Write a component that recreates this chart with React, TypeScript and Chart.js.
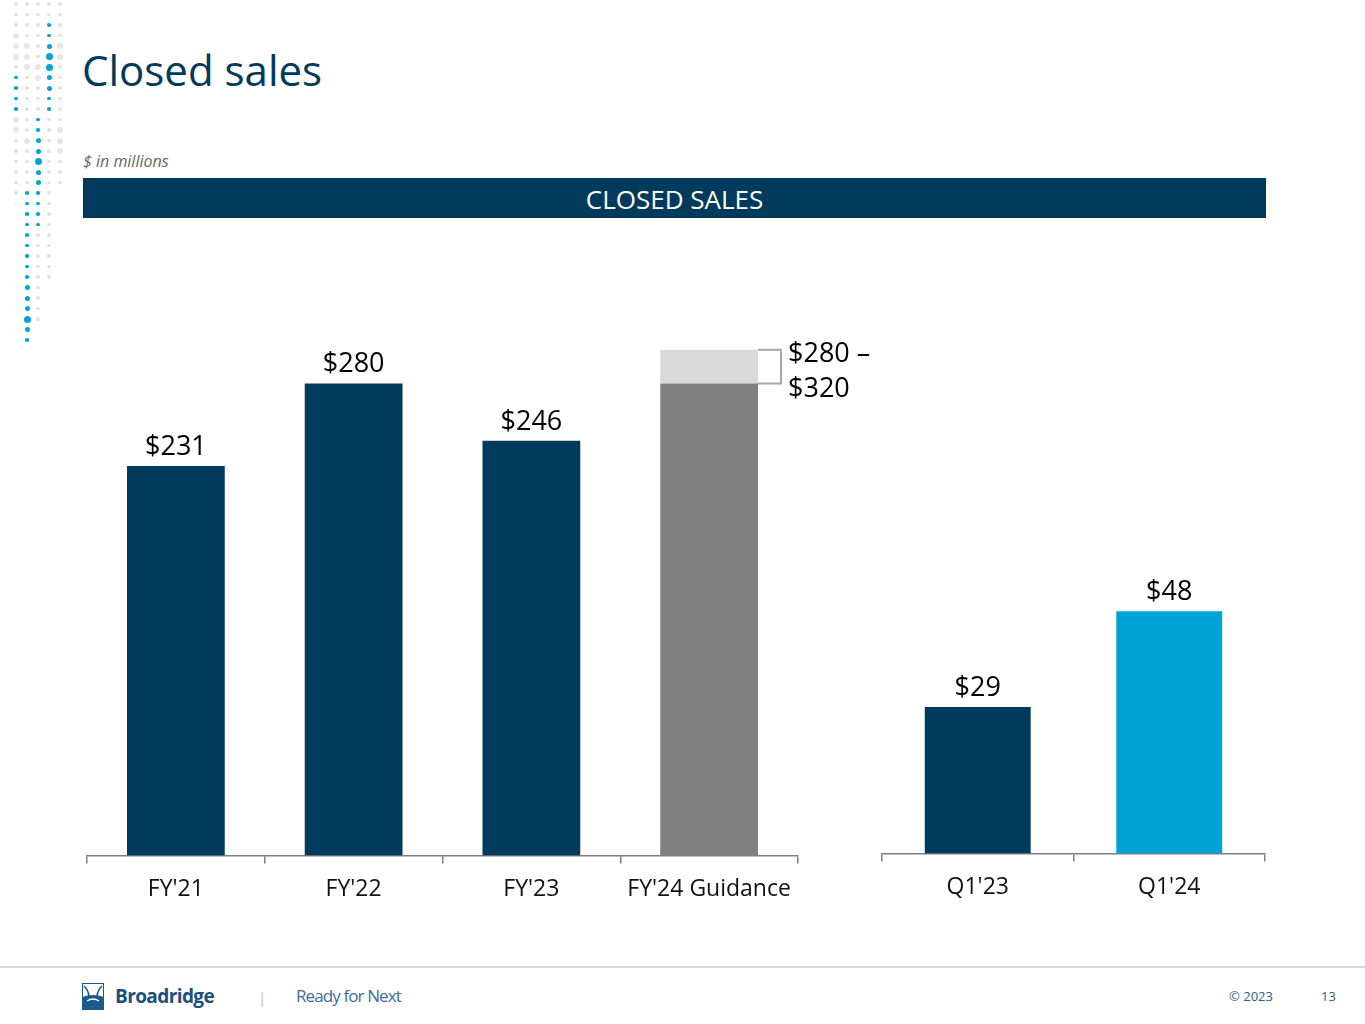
import React, { useRef, useEffect } from 'react';
import { Chart, registerables } from 'chart.js';

Chart.register(...registerables);

// annual closed sales, $ millions
const fyLabels = ["FY'21", "FY'22", "FY'23", "FY'24 Guidance"];
const fyValues = [231, 280, 246, 280];
// light segment on top of the guidance bar (drawn height)
const fyRangeTop = [0, 0, 0, 20];
const guidanceLow = 280;
const guidanceHigh = 320;

// first quarter closed sales
const qLabels = ["Q1'23", "Q1'24"];
const qValues = [29, 48];

const NAVY = '#003a5c';
const BLUE = '#00a3d6';
const FONT = '"Open Sans", "Noto Sans", sans-serif';

const fyColors = fyValues.map((_, i) => (i === fyValues.length - 1 ? '#808080' : NAVY));
const qColors = [NAVY, BLUE];

const valueLabels = {
  id: 'valueLabels',
  afterDatasetsDraw(chart: Chart) {
    const ctx = chart.ctx;
    const meta = chart.getDatasetMeta(0);
    const isFy = chart.data.labels!.length === fyLabels.length;
    ctx.save();
    ctx.font = `27px ${FONT}`;
    ctx.fillStyle = '#000';
    ctx.textBaseline = 'alphabetic';
    meta.data.forEach((bar: any, i: number) => {
      const v = chart.data.datasets[0].data[i] as number;
      if (isFy && i === fyValues.length - 1) {
        const top = chart.getDatasetMeta(1).data[i] as any;
        const right = bar.x + bar.width / 2;
        ctx.strokeStyle = '#a6a6a6';
        ctx.lineWidth = 2;
        ctx.beginPath();
        ctx.moveTo(right, top.y);
        ctx.lineTo(right + 23, top.y);
        ctx.lineTo(right + 23, bar.y);
        ctx.lineTo(right, bar.y);
        ctx.stroke();
        ctx.textAlign = 'left';
        ctx.fillText(`$${guidanceLow} –`, right + 30, top.y + 12);
        ctx.fillText(`$${guidanceHigh}`, right + 30, bar.y + 14);
        return;
      }
      ctx.textAlign = 'center';
      ctx.fillText(`$${v}`, bar.x, bar.y - 11);
    });
    ctx.restore();
  },
};

function xAxis() {
  return {
    stacked: true,
    grid: {
      display: true,
      drawOnChartArea: false,
      drawTicks: true,
      tickLength: 8,
      color: '#7f7f7f',
      lineWidth: 1.5,
      offset: true,
    },
    border: { display: true, color: '#7f7f7f', width: 1.5 },
    ticks: { color: '#111', font: { family: FONT, size: 23 }, padding: 12, maxRotation: 0, autoSkip: false },
  };
}

function BarChart({ labels, datasets, max, padding, width, height }: any) {
  const canvasRef = useRef<HTMLCanvasElement>(null);
  useEffect(() => {
    if (!canvasRef.current) return;
    const chart = new Chart(canvasRef.current, {
      type: 'bar',
      data: { labels, datasets },
      options: {
        responsive: false,
        animation: false,
        layout: { padding },
        plugins: { legend: { display: false }, tooltip: { enabled: false } },
        scales: {
          x: xAxis() as any,
          y: { display: false, stacked: true, min: 0, max },
        },
      },
      plugins: [valueLabels],
    });
    return () => chart.destroy();
  }, []);
  return <canvas ref={canvasRef} width={width} height={height} style={{ width, height, display: 'block' }} />;
}

// left-edge dot decoration: one string per column, one char per row
const dotCols = [16, 27, 38, 49, 60];
const dotRows = [
  'gggGGGgbbbbGGggggggt',
  'ggggGGGggggggGggggbbbbbbbbbmmmBmb',
  'ggggggGGgggbbmmBmmbbbbggggggggg',
  'ggbbmBBmmbbgggggggggggggggg',
  'ggggGGggggggGGGggg',
];
const dotStyle: Record<string, [number, string]> = {
  t: [2, '#e9e9e9'],
  g: [3.5, '#e3e3e3'],
  G: [6, '#e6e6e6'],
  b: [3.5, BLUE],
  m: [5, BLUE],
  B: [7, BLUE],
};

function Dots() {
  const out: React.ReactNode[] = [];
  dotRows.forEach((col, c) => {
    col.split('').forEach((ch, r) => {
      const st = dotStyle[ch];
      if (!st) return;
      const [d, color] = st;
      out.push(
        <div
          key={`${c}-${r}`}
          style={{
            position: 'absolute',
            left: dotCols[c] - d / 2,
            top: 4 + r * 10.5 - d / 2,
            width: d,
            height: d,
            borderRadius: '50%',
            background: color,
          }}
        />
      );
    });
  });
  return <>{out}</>;
}

export default function App() {
  const fyDatasets = [
    { data: fyValues, backgroundColor: fyColors, categoryPercentage: 1, barPercentage: 0.55 },
    { data: fyRangeTop, backgroundColor: '#d9d9d9', categoryPercentage: 1, barPercentage: 0.55 },
  ];
  const qDatasets = [
    { data: qValues, backgroundColor: qColors, categoryPercentage: 1, barPercentage: 0.553 },
  ];
  return (
    <div
      style={{
        position: 'absolute',
        left: 0,
        top: 0,
        width: 1365,
        height: 1024,
        background: '#fff',
        overflow: 'hidden',
        fontFamily: FONT,
      }}
    >
      <Dots />
      <div style={{ position: 'absolute', left: 82, top: 40, fontSize: 42, color: NAVY, lineHeight: '60px' }}>
        Closed sales
      </div>
      <div style={{ position: 'absolute', left: 83, top: 150, fontSize: 16, fontStyle: 'italic', color: '#666' }}>
        $ in millions
      </div>
      <div
        style={{
          position: 'absolute',
          left: 83,
          top: 178,
          width: 1183,
          height: 40,
          background: NAVY,
          color: '#fff',
          fontSize: 26,
          lineHeight: '42px',
          textAlign: 'center',
        }}
      >
        CLOSED SALES
      </div>

      <div style={{ position: 'absolute', left: 77, top: 290 }}>
        <BarChart
          labels={fyLabels}
          datasets={fyDatasets}
          max={320}
          width={811}
          height={625}
          padding={{ left: 10, right: 90, top: 26, bottom: 0 }}
        />
      </div>
      <div style={{ position: 'absolute', left: 872, top: 290 }}>
        <BarChart
          labels={qLabels}
          datasets={qDatasets}
          max={100}
          width={403}
          height={625}
          padding={{ left: 10, right: 10, top: 59, bottom: 2 }}
        />
      </div>

      <div style={{ position: 'absolute', left: 0, top: 966, width: 1365, height: 2, background: '#d6d6d6' }} />
      <svg style={{ position: 'absolute', left: 82, top: 983 }} width={22} height={27} viewBox="0 0 22 27">
        <rect x={0.5} y={0.5} width={21} height={26} fill="#fff" stroke="#1b5a8a" />
        <path d="M0 14 Q11 10 22 14 L22 27 L0 27 Z" fill="#1b5a8a" />
        <path d="M2 3 Q11 12 4 25 M20 3 Q11 12 18 25" stroke="#1b5a8a" strokeWidth={1.6} fill="none" />
        <path d="M5 18 Q11 14 17 18" stroke="#fff" strokeWidth={1.4} fill="none" />
      </svg>
      <div style={{ position: 'absolute', left: 115, top: 983, fontSize: 19, fontWeight: 700, color: '#1b4f80', letterSpacing: -0.6 }}>
        Broadridge
      </div>
      <div style={{ position: 'absolute', left: 258, top: 987, fontSize: 15, color: '#bbb' }}>|</div>
      <div style={{ position: 'absolute', left: 296, top: 984, fontSize: 17, color: '#3e6c95', letterSpacing: -0.9 }}>
        Ready for Next
      </div>
      <div style={{ position: 'absolute', left: 1229, top: 987, fontSize: 13, color: '#2f5f8a' }}>© 2023</div>
      <div style={{ position: 'absolute', left: 1321, top: 987, fontSize: 13, color: '#2f5f8a' }}>13</div>
    </div>
  );
}
